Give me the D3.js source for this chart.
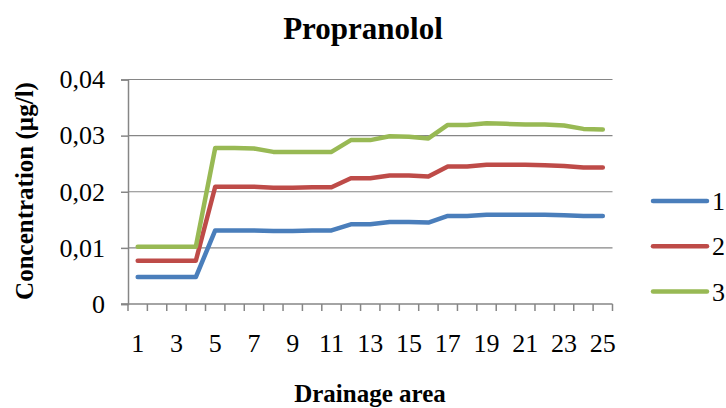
<!DOCTYPE html>
<html>
<head>
<meta charset="utf-8">
<script src="https://cdnjs.cloudflare.com/ajax/libs/d3/7.8.5/d3.min.js"></script>
<style>
  body { margin: 0; background: #fff; }
  text { font-family: "Liberation Serif", "Times New Roman", serif; fill: #000; }
</style>
</head>
<body>
<script>
// chart data
var areas = d3.range(1, 26);
var seriesNames = ["1", "2", "3"];
var s1 = [0.0048, 0.0048, 0.0048, 0.0048, 0.0131, 0.0131, 0.0131, 0.0130, 0.0130, 0.0131, 0.0131,
          0.0142, 0.0142, 0.0146, 0.0146, 0.0145, 0.0157, 0.0157, 0.0159, 0.0159, 0.0159, 0.0159,
          0.0158, 0.0157, 0.0157];
var s2 = [0.0077, 0.0077, 0.0077, 0.0077, 0.0209, 0.0209, 0.0209, 0.0207, 0.0207, 0.0208, 0.0208,
          0.0224, 0.0224, 0.0229, 0.0229, 0.0227, 0.0245, 0.0245, 0.0248, 0.0248, 0.0248, 0.0247,
          0.0246, 0.0243, 0.0243];
var s3 = [0.0102, 0.0102, 0.0102, 0.0102, 0.0278, 0.0278, 0.0277, 0.0271, 0.0271, 0.0271, 0.0271,
          0.0292, 0.0292, 0.0299, 0.0298, 0.0295, 0.0319, 0.0319, 0.0322, 0.0321, 0.0320, 0.0320,
          0.0318, 0.0312, 0.0311];
var yTicks = [0, 0.01, 0.02, 0.03, 0.04];
var colors = ["#4A7EBB", "#BE4B48", "#98B954"];

var w = 726, h = 408;
var plotLeft = 128, plotRight = 612.5, plotTop = 79.5, plotBottom = 304;

var svg = d3.select("body").append("svg")
  .attr("width", w)
  .attr("height", h);

var x = d3.scaleBand().domain(areas).range([plotLeft, plotRight]);
var y = d3.scaleLinear().domain([0, 0.04]).range([plotBottom, plotTop]);

// gridlines
svg.append("g").selectAll("line")
  .data(yTicks.slice(1))
  .enter().append("line")
  .attr("x1", plotLeft).attr("x2", plotRight)
  .attr("y1", function(d) { return y(d); })
  .attr("y2", function(d) { return y(d); })
  .attr("stroke", "#868686")
  .attr("stroke-width", 1.2);

// y axis
var yAxis = svg.append("g")
  .attr("transform", "translate(" + plotLeft + ",0)")
  .call(d3.axisLeft(y).tickValues(yTicks).tickSize(7).tickPadding(16)
    .tickFormat(function(d) { return d === 0 ? "0" : d3.format(".2f")(d).replace(".", ","); }));
yAxis.select(".domain").attr("stroke", "#868686").attr("stroke-width", 1.5);
yAxis.selectAll(".tick line").attr("stroke", "#868686").attr("stroke-width", 1.5);
yAxis.selectAll("text").attr("font-size", 26).attr("font-family", "Liberation Serif").attr("fill", "#000");

// x axis: ticks on category boundaries
var xg = svg.append("g");
xg.append("line")
  .attr("x1", plotLeft - 7).attr("x2", plotRight)
  .attr("y1", plotBottom).attr("y2", plotBottom)
  .attr("stroke", "#868686").attr("stroke-width", 1.5);
xg.selectAll(".bt")
  .data(areas.concat([26]))
  .enter().append("line")
  .attr("class", "bt")
  .attr("x1", function(d) { return d <= 25 ? x(d) : x(25) + x.bandwidth(); })
  .attr("x2", function(d) { return d <= 25 ? x(d) : x(25) + x.bandwidth(); })
  .attr("y1", plotBottom).attr("y2", plotBottom + 7)
  .attr("stroke", "#868686").attr("stroke-width", 1.5);
xg.selectAll(".lbl")
  .data(areas.filter(function(d) { return d % 2 === 1; }))
  .enter().append("text")
  .attr("class", "lbl")
  .attr("x", function(d) { return x(d) + x.bandwidth() / 2; })
  .attr("y", 352)
  .attr("text-anchor", "middle")
  .attr("font-size", 26)
  .text(function(d) { return d; });

// lines
var line = d3.line()
  .x(function(d, i) { return x(areas[i]) + x.bandwidth() / 2; })
  .y(function(d) { return y(d); });

[s1, s2, s3].forEach(function(s, i) {
  svg.append("path")
    .datum(s)
    .attr("d", line)
    .attr("fill", "none")
    .attr("stroke", colors[i])
    .attr("stroke-width", 4.5)
    .attr("stroke-linejoin", "round")
    .attr("stroke-linecap", "round");
});

// legend
var leg = svg.append("g").selectAll("g")
  .data(seriesNames)
  .enter().append("g")
  .attr("transform", function(d, i) { return "translate(0," + (201 + i * 45.3) + ")"; });
leg.append("line")
  .attr("x1", 653).attr("x2", 707)
  .attr("stroke", function(d, i) { return colors[i]; })
  .attr("stroke-width", 4.5)
  .attr("stroke-linecap", "round");
leg.append("text")
  .attr("x", 712).attr("y", 9)
  .attr("font-size", 26)
  .text(function(d) { return d; });

// titles
svg.append("text")
  .attr("x", 363).attr("y", 39)
  .attr("text-anchor", "middle")
  .attr("font-size", 31)
  .attr("font-weight", "bold")
  .text("Propranolol");

svg.append("text")
  .attr("transform", "translate(33,191) rotate(-90)")
  .attr("text-anchor", "middle")
  .attr("font-size", 25)
  .attr("font-weight", "bold")
  .text("Concentration (µg/l)");

svg.append("text")
  .attr("x", 370).attr("y", 402)
  .attr("text-anchor", "middle")
  .attr("font-size", 25)
  .attr("font-weight", "bold")
  .text("Drainage area");
</script>
</body>
</html>
